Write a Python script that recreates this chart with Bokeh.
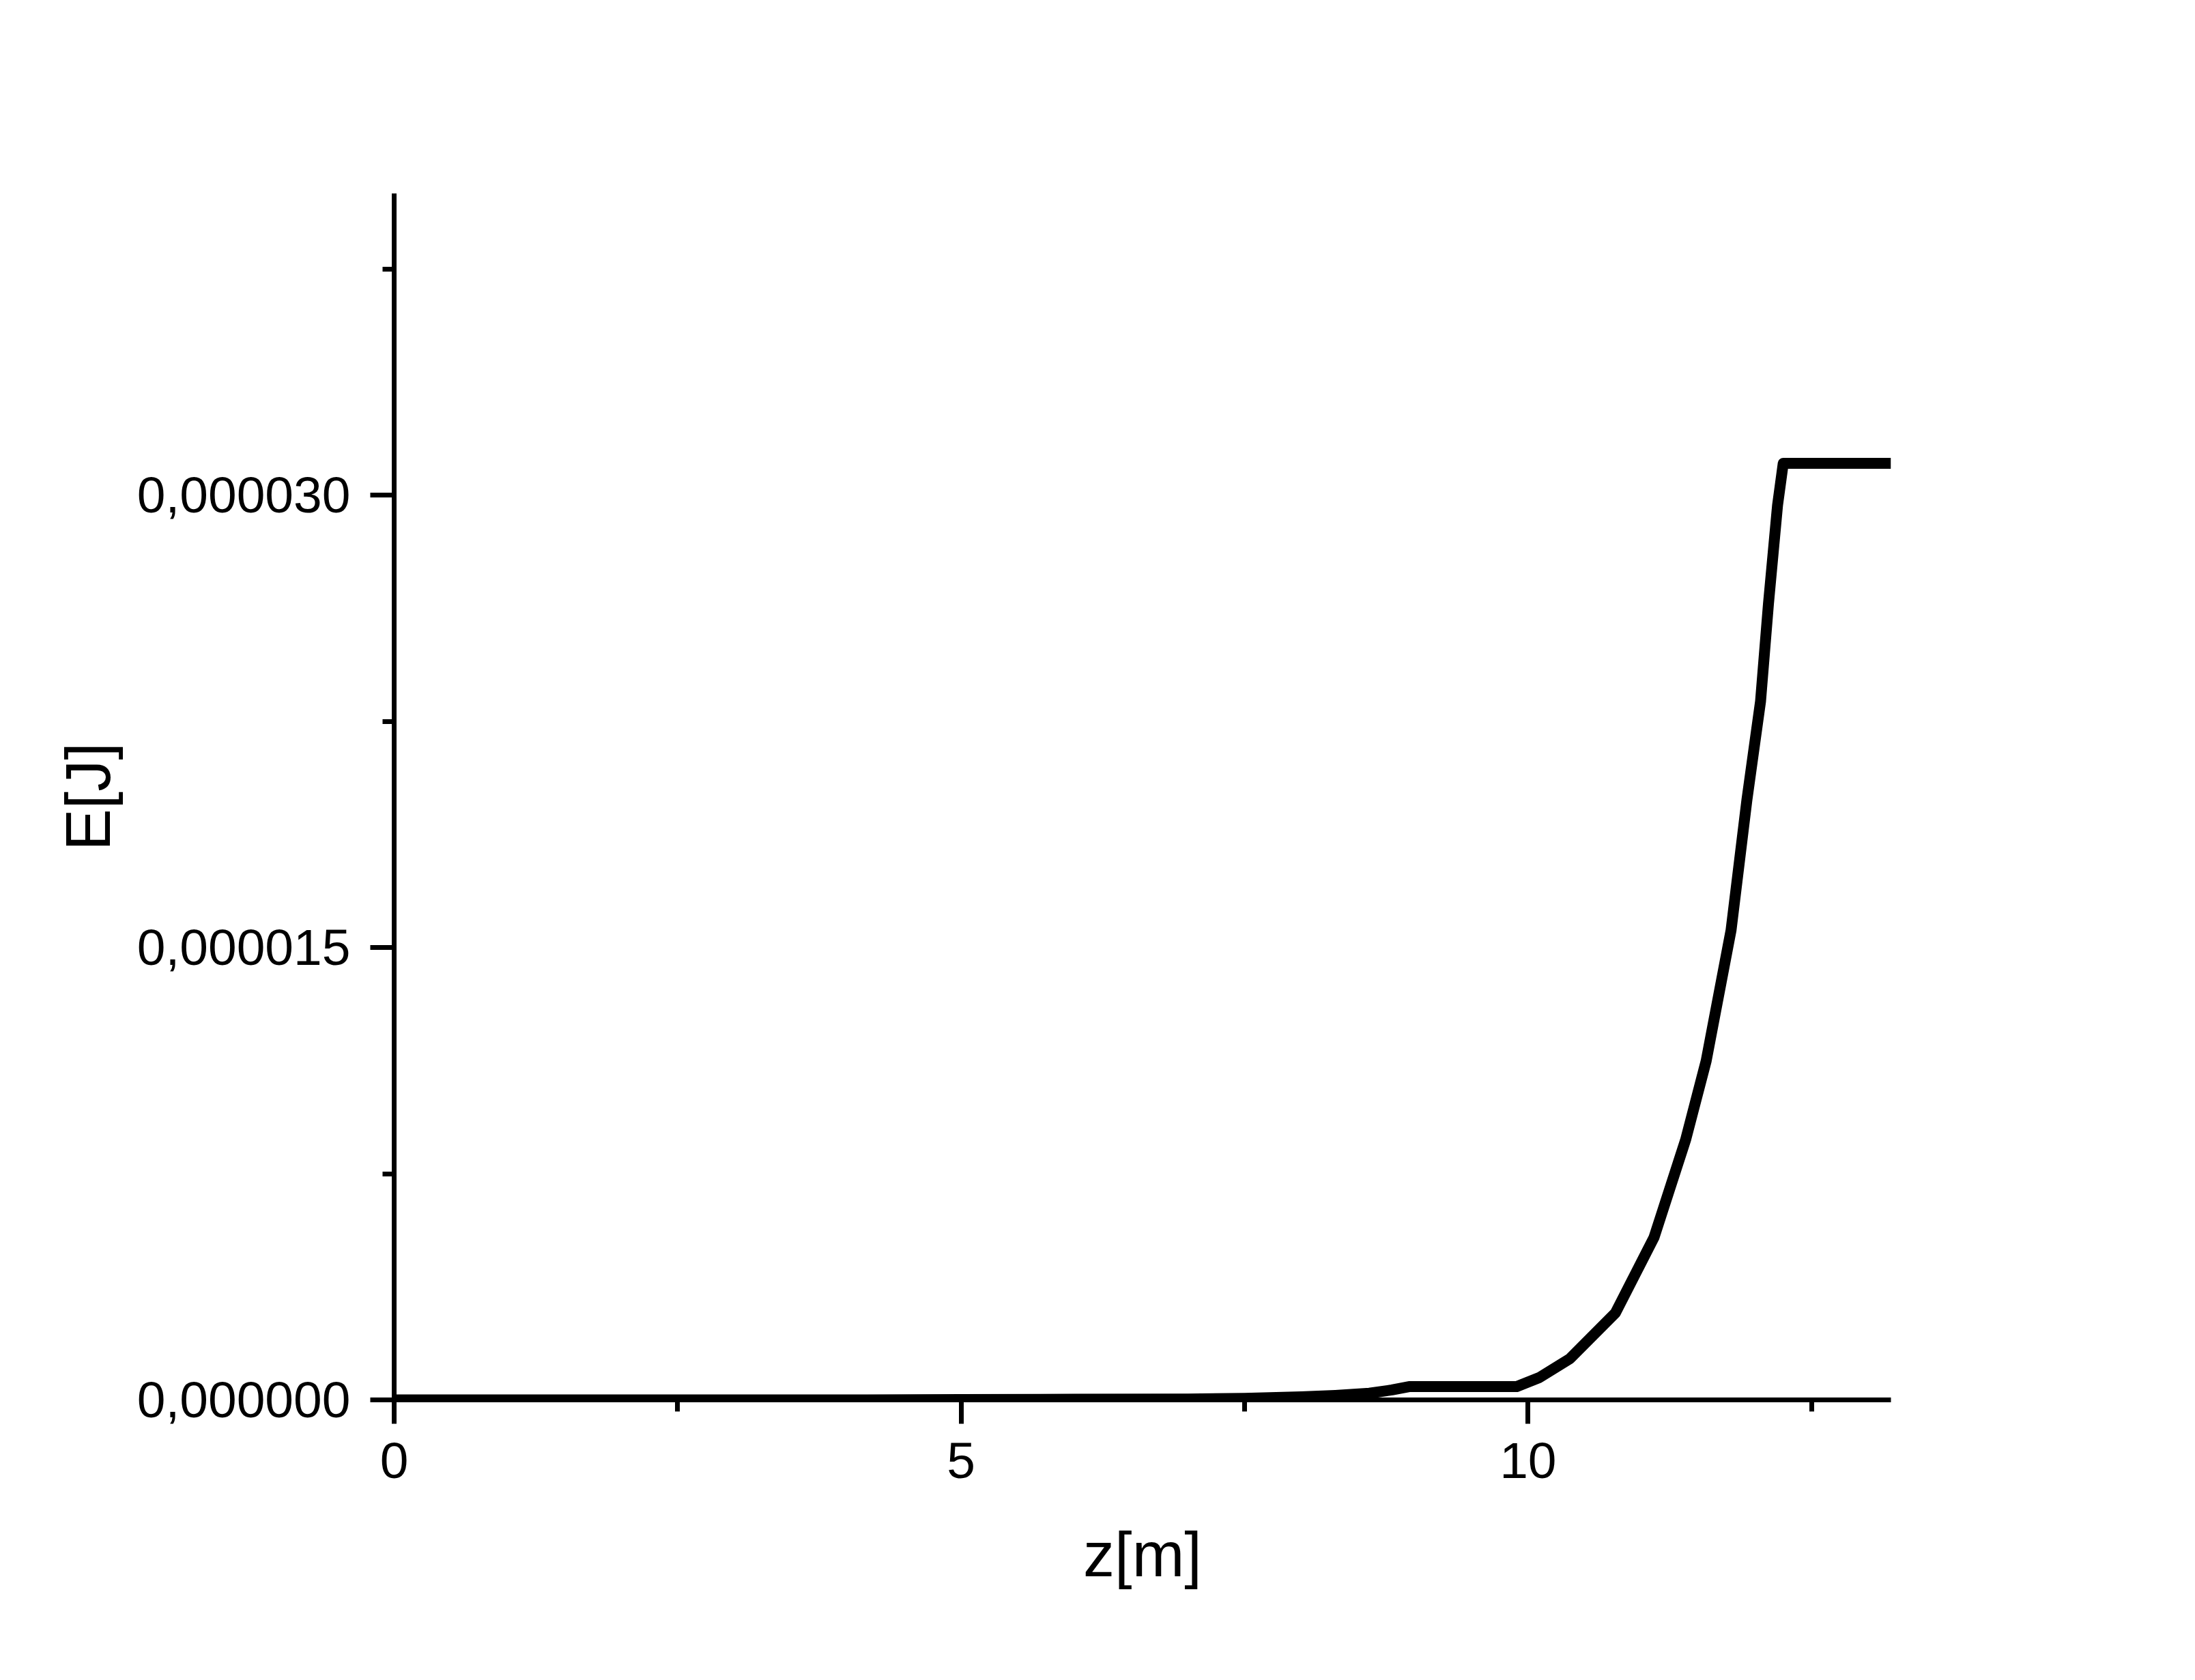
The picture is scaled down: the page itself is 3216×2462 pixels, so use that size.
from bokeh.plotting import figure
from bokeh.models import FixedTicker, CustomJSTickFormatter, Range1d
from bokeh.embed import file_html
from bokeh.resources import INLINE

# data: z in m, E in units of 1e-6 J
z_m = [0, 1, 2, 3, 4, 5, 6, 7.0, 7.5, 8.0, 8.3, 8.6, 8.8, 8.95, 9.9, 10.1,
       10.37, 10.77, 11.11, 11.39, 11.57, 11.79, 11.93, 12.05, 12.12, 12.20,
       12.25, 13.2]
E_uJ = [0, 0, 0, 0, 0, 0.01, 0.02, 0.03, 0.05, 0.1, 0.15, 0.22, 0.33, 0.44,
        0.44, 0.74, 1.37, 2.88, 5.38, 8.63, 11.23, 15.57, 19.9, 23.16, 26.4,
        29.66, 31.05, 31.05]
E_J = [v * 1e-6 for v in E_uJ]

x_major = [0, 5, 10]
x_minor = [2.5, 7.5, 12.5]
y_major = [0, 15e-6, 30e-6]
y_minor = [7.5e-6, 22.5e-6, 37.5e-6]
x_title = "z[m]"
y_title = "E[J]"

FONT = "Liberation Sans"

p = figure(width=3200, height=2446, output_backend="svg", toolbar_location=None,
           x_range=Range1d(0, 13.2), y_range=Range1d(0, 40e-6),
           min_border_left=577, min_border_right=430,
           min_border_top=283, min_border_bottom=395)
p.outline_line_color = None
p.xgrid.visible = False
p.ygrid.visible = False
p.background_fill_color = "white"
p.border_fill_color = "white"

p.line(z_m, E_J, line_color="black", line_width=16, line_join="round")

p.xaxis.ticker = FixedTicker(ticks=x_major, minor_ticks=x_minor)
p.yaxis.ticker = FixedTicker(ticks=y_major, minor_ticks=y_minor)
p.xaxis.formatter = CustomJSTickFormatter(code="return tick.toFixed(0);")
p.yaxis.formatter = CustomJSTickFormatter(code="return tick.toFixed(6).replace('.', ',');")

for ax in (p.xaxis, p.yaxis):
    ax.axis_line_width = 7
    ax.axis_line_color = "black"
    ax.major_tick_line_width = 7
    ax.minor_tick_line_width = 7
    ax.major_tick_line_color = "black"
    ax.minor_tick_line_color = "black"
    ax.major_tick_in = 0
    ax.major_tick_out = 35
    ax.minor_tick_in = 0
    ax.minor_tick_out = 17
    ax.major_label_text_font = FONT
    ax.major_label_text_font_size = "75px"
    ax.major_label_text_color = "black"
    ax.axis_label_text_font = FONT
    ax.axis_label_text_font_size = "92px"
    ax.axis_label_text_font_style = "normal"
    ax.axis_label_text_color = "black"

p.xaxis.axis_label = x_title
p.yaxis.axis_label = y_title
p.xaxis.major_label_standoff = 28
p.yaxis.major_label_standoff = 29
p.xaxis.axis_label_standoff = 58
p.yaxis.axis_label_standoff = 18

open("out.html", "w").write(file_html(p, INLINE))
